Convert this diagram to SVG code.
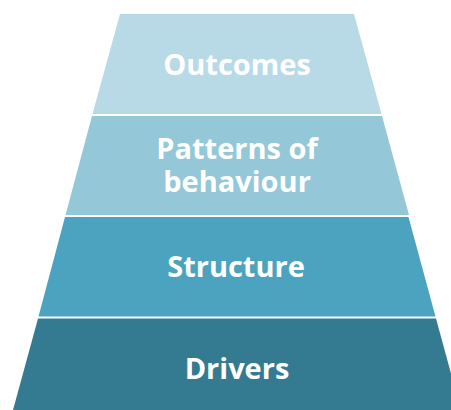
<svg xmlns="http://www.w3.org/2000/svg" width="451" height="410" viewBox="0 0 451 410">
<style>
.lbl{font-family:"Open Sans","Liberation Sans",sans-serif;font-weight:700;font-size:29px;fill:#ffffff;text-anchor:middle}
</style>
<rect width="451" height="410" fill="#ffffff"/>
<g id="outcomes">
<polygon points="120,14 354,14 381.5,114 92.5,114" fill="#b8dae6"/>
<text class="lbl" x="237" y="75">Outcomes</text>
</g>
<g id="patterns">
<polygon points="92,116 382,116 409,215 65.5,215" fill="#94c7d8"/>
<text class="lbl" x="237" y="159">Patterns of<tspan x="237" dy="33">behaviour</tspan></text>
</g>
<g id="structure">
<polygon points="65,217 408.5,217 435.5,316.5 38.5,316.5" fill="#4ba3c0"/>
<text class="lbl" x="236" y="277">Structure</text>
</g>
<g id="drivers">
<polygon points="38,318.5 436,318.5 461,410 13,410" fill="#347b92"/>
<text class="lbl" x="237" y="379">Drivers</text>
</g>
<g id="connectors"/>
</svg>
